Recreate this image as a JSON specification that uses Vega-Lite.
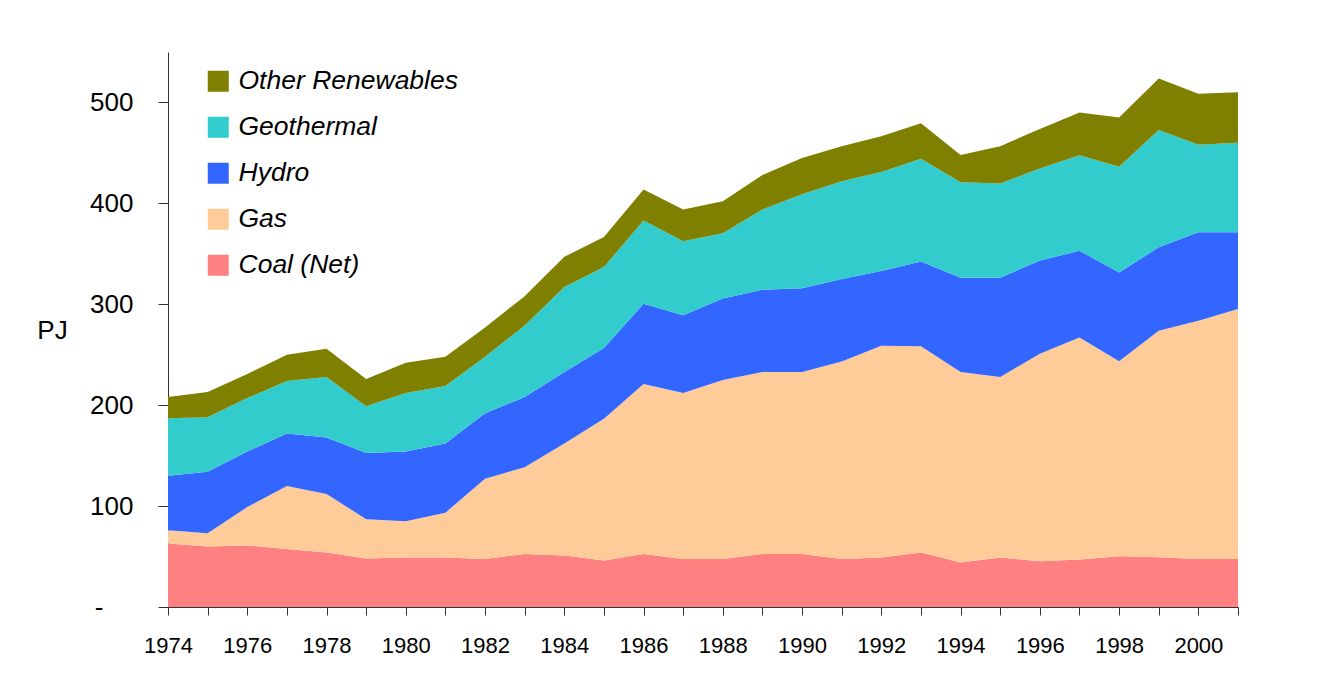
{
  "$schema": "https://vega.github.io/schema/vega-lite/v6.json",
  "autosize": {"type": "none"},
  "width": 1070,
  "height": 555,
  "padding": {"left": 168, "top": 52, "right": 93, "bottom": 81},
  "background": "white",
  "config": {"view": {"stroke": null}, "font": "Liberation Sans"},
  "data": {"values": [
    {"year":1974,"Coal (Net)":63,"Gas":13,"Hydro":54,"Geothermal":57,"Other Renewables":21},
    {"year":1975,"Coal (Net)":60,"Gas":13,"Hydro":61,"Geothermal":54,"Other Renewables":25},
    {"year":1976,"Coal (Net)":61,"Gas":38,"Hydro":55,"Geothermal":53,"Other Renewables":24},
    {"year":1977,"Coal (Net)":57.5,"Gas":62.5,"Hydro":52,"Geothermal":52,"Other Renewables":26},
    {"year":1978,"Coal (Net)":54,"Gas":58,"Hydro":56,"Geothermal":60,"Other Renewables":28},
    {"year":1979,"Coal (Net)":48,"Gas":39,"Hydro":65.5,"Geothermal":46.5,"Other Renewables":27},
    {"year":1980,"Coal (Net)":49,"Gas":36,"Hydro":69,"Geothermal":58,"Other Renewables":30},
    {"year":1981,"Coal (Net)":49,"Gas":44.5,"Hydro":68.5,"Geothermal":57,"Other Renewables":29},
    {"year":1982,"Coal (Net)":47.6,"Gas":79.4,"Hydro":65,"Geothermal":56,"Other Renewables":29},
    {"year":1983,"Coal (Net)":52.6,"Gas":86,"Hydro":69.4,"Geothermal":71,"Other Renewables":29},
    {"year":1984,"Coal (Net)":51,"Gas":111,"Hydro":71,"Geothermal":84,"Other Renewables":30},
    {"year":1985,"Coal (Net)":46,"Gas":140.5,"Hydro":70.1,"Geothermal":80.4,"Other Renewables":29.7},
    {"year":1986,"Coal (Net)":52.6,"Gas":168.4,"Hydro":79.6,"Geothermal":82.4,"Other Renewables":30.7},
    {"year":1987,"Coal (Net)":47.6,"Gas":164.4,"Hydro":77,"Geothermal":73.5,"Other Renewables":31.3},
    {"year":1988,"Coal (Net)":47.6,"Gas":177.4,"Hydro":80.6,"Geothermal":64.9,"Other Renewables":31.5},
    {"year":1989,"Coal (Net)":52.6,"Gas":180.4,"Hydro":81.5,"Geothermal":79.5,"Other Renewables":34},
    {"year":1990,"Coal (Net)":52.6,"Gas":180.4,"Hydro":83,"Geothermal":93,"Other Renewables":36},
    {"year":1991,"Coal (Net)":47.6,"Gas":195.8,"Hydro":81.6,"Geothermal":97,"Other Renewables":34.7},
    {"year":1992,"Coal (Net)":49,"Gas":210,"Hydro":74,"Geothermal":98,"Other Renewables":35.5},
    {"year":1993,"Coal (Net)":54,"Gas":204.5,"Hydro":84,"Geothermal":101.7,"Other Renewables":35.3},
    {"year":1994,"Coal (Net)":44,"Gas":189,"Hydro":93.4,"Geothermal":94.6,"Other Renewables":27},
    {"year":1995,"Coal (Net)":49,"Gas":179,"Hydro":98.4,"Geothermal":93.2,"Other Renewables":37},
    {"year":1996,"Coal (Net)":45.3,"Gas":205.7,"Hydro":92.3,"Geothermal":91.2,"Other Renewables":39.3},
    {"year":1997,"Coal (Net)":47.1,"Gas":219.9,"Hydro":86,"Geothermal":94.6,"Other Renewables":42.4},
    {"year":1998,"Coal (Net)":50.3,"Gas":193.3,"Hydro":88,"Geothermal":104.6,"Other Renewables":49},
    {"year":1999,"Coal (Net)":49.3,"Gas":224.5,"Hydro":82.6,"Geothermal":116.4,"Other Renewables":51},
    {"year":2000,"Coal (Net)":47.5,"Gas":236.2,"Hydro":87.6,"Geothermal":86.9,"Other Renewables":50.4},
    {"year":2001,"Coal (Net)":47.5,"Gas":247.9,"Hydro":75.9,"Geothermal":88.7,"Other Renewables":50}
  ]},
  "transform": [
    {"fold": ["Coal (Net)", "Gas", "Hydro", "Geothermal", "Other Renewables"], "as": ["source", "pj"]},
    {"calculate": "indexof(['Coal (Net)','Gas','Hydro','Geothermal','Other Renewables'], datum.source)", "as": "ord"}
  ],
  "mark": {"type": "area", "opacity": 1},
  "encoding": {
    "x": {
      "field": "year", "type": "quantitative",
      "scale": {"domain": [1974, 2001], "nice": false, "zero": false},
      "axis": {
        "title": null, "grid": false,
        "values": [1974,1975,1976,1977,1978,1979,1980,1981,1982,1983,1984,1985,1986,1987,1988,1989,1990,1991,1992,1993,1994,1995,1996,1997,1998,1999,2000,2001],
        "labelExpr": "datum.value % 2 == 0 && datum.value < 2001 ? format(datum.value, 'd') : ''",
        "labelFont": "Liberation Sans", "labelFontSize": 22, "labelColor": "#000",
        "labelPadding": 20, "labelFlush": false, "labelOverlap": false,
        "tickSize": 8, "tickColor": "#333", "domainColor": "#333"
      }
    },
    "y": {
      "field": "pj", "type": "quantitative", "stack": "zero",
      "scale": {"domain": [0, 550], "nice": false},
      "axis": {
        "title": "PJ", "titleAngle": 0, "titleFont": "Liberation Sans", "titleFontSize": 26,
        "titleFontWeight": "normal", "titleColor": "#000",
        "titleX": -116, "titleY": 278, "titleAlign": "center", "titleBaseline": "middle",
        "grid": false, "values": [0,100,200,300,400,500],
        "labelExpr": "datum.value == 0 ? '-' : format(datum.value, 'd')",
        "labelFont": "Liberation Sans", "labelFontSize": 26, "labelColor": "#000",
        "labelPadding": {"condition": {"test": "datum.value == 0", "value": 55}, "value": 25},
        "tickSize": 10, "tickColor": "#333", "domainColor": "#333"
      }
    },
    "color": {
      "field": "source", "type": "nominal",
      "scale": {
        "domain": ["Other Renewables", "Geothermal", "Hydro", "Gas", "Coal (Net)"],
        "range": ["#808000", "#33CCCC", "#3366FF", "#FFCC99", "#FF8080"]
      },
      "legend": {
        "title": null, "orient": "none", "legendX": 37, "legendY": 16,
        "symbolType": "square", "symbolSize": 441, "symbolStrokeWidth": 0, "symbolOpacity": 1,
        "labelFont": "Liberation Sans", "labelFontSize": 26.5, "labelFontStyle": "italic",
        "labelColor": "#000", "labelOffset": 7, "rowPadding": 19, "labelLimit": 400
      }
    },
    "order": {"field": "ord", "type": "quantitative"}
  }
}
